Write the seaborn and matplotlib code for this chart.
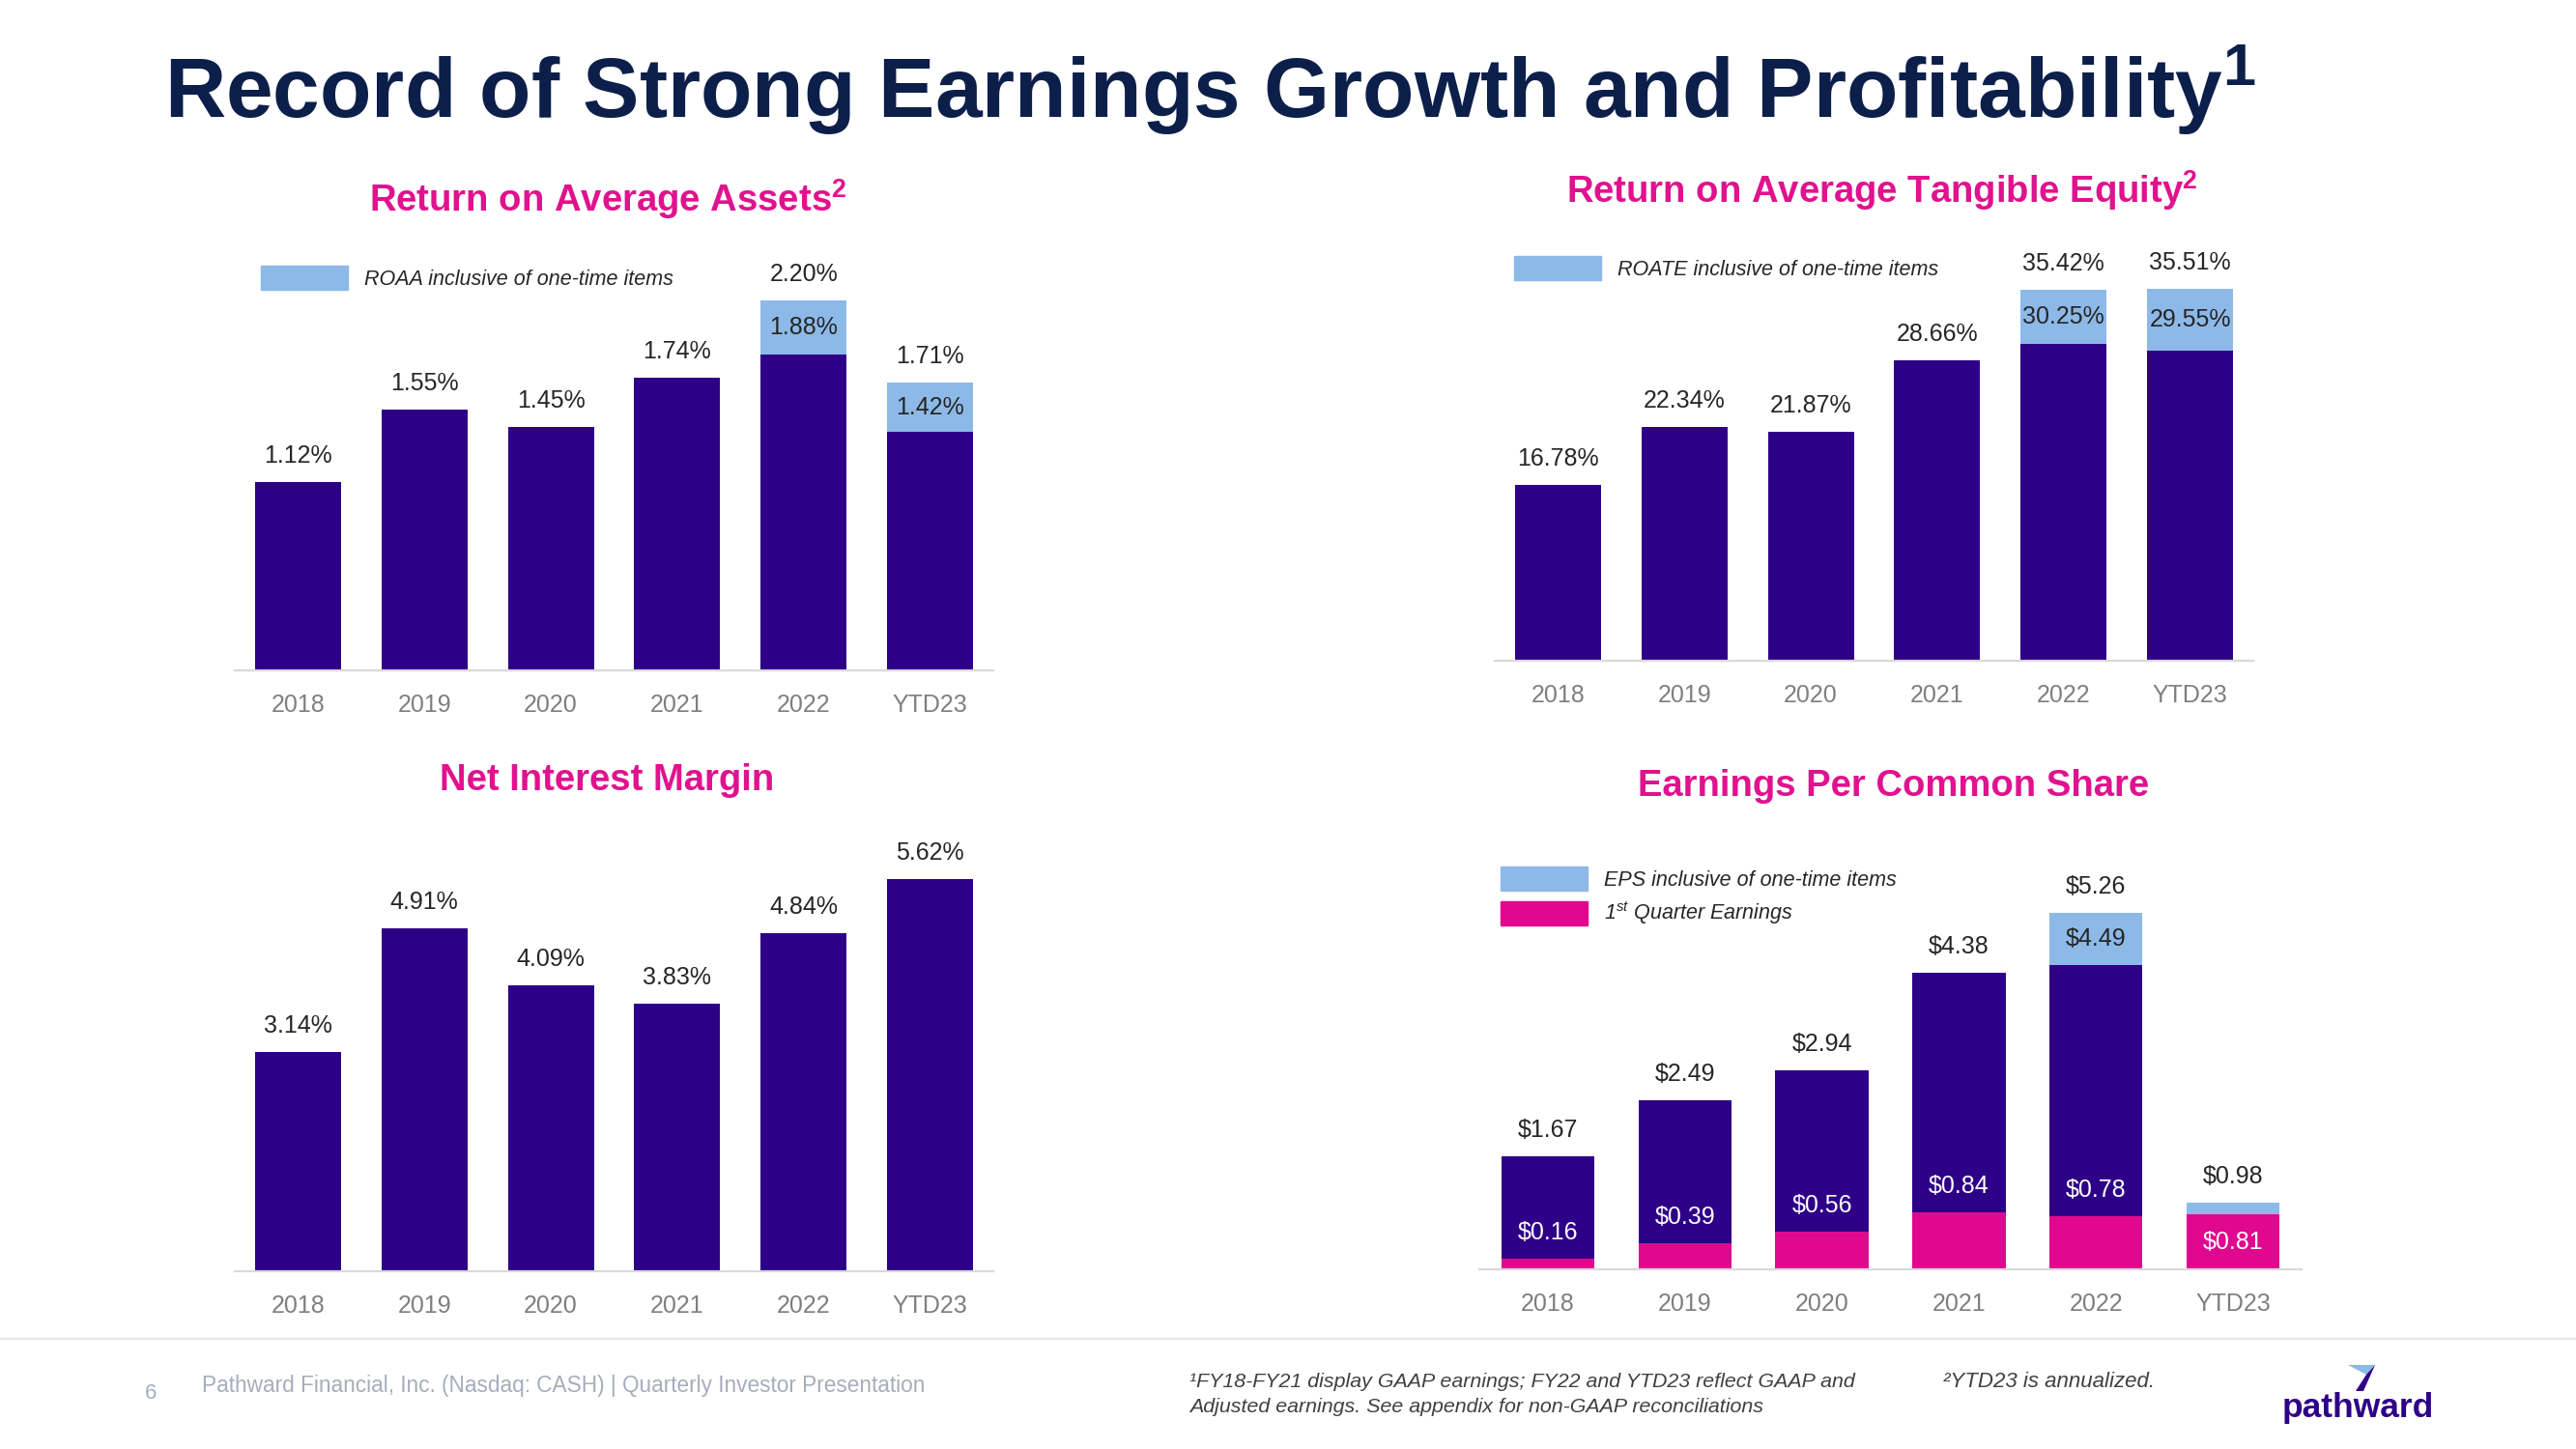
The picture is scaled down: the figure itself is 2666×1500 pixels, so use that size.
import matplotlib
matplotlib.use("Agg")
import matplotlib.pyplot as plt
import matplotlib.patches as mpatches
import seaborn as sns

# Data
years = ["2018", "2019", "2020", "2021", "2022", "YTD23"]

roaa_adjusted = [1.12, 1.55, 1.45, 1.74, 1.88, 1.42]
roaa_inclusive = [1.12, 1.55, 1.45, 1.74, 2.20, 1.71]

roate_adjusted = [16.78, 22.34, 21.87, 28.66, 30.25, 29.55]
roate_inclusive = [16.78, 22.34, 21.87, 28.66, 35.42, 35.51]

nim = [3.14, 4.91, 4.09, 3.83, 4.84, 5.62]

eps_adjusted = [1.67, 2.49, 2.94, 4.38, 4.49, 0.81]
eps_inclusive = [1.67, 2.49, 2.94, 4.38, 5.26, 0.98]
eps_q1 = [0.16, 0.39, 0.56, 0.84, 0.78, 0.81]

DARK = "#2E0087"
LIGHT = "#8DB9E8"
PINK = "#E0088F"
MAGENTA = "#E0128E"
NAVY = "#0C1F4A"
LABEL = "#262626"
TICK = "#7F7F7F"

W, H = 2666, 1500

sns.set_theme(style="white")
plt.rcParams["font.family"] = ["Liberation Sans", "DejaVu Sans"]
plt.rcParams["mathtext.fontset"] = "custom"
plt.rcParams["mathtext.rm"] = "Liberation Sans"
plt.rcParams["mathtext.it"] = "Liberation Sans:italic"
plt.rcParams["mathtext.bf"] = "Liberation Sans:bold"

fig = plt.figure(figsize=(W / 100, H / 100), dpi=100)


def fx(x):
    return x / W


def fy(y):
    return 1 - y / H


def make_axis(left, width, baseline, scale, ymax):
    """axes whose y=0 sits on the baseline pixel row, scale in px per unit"""
    height = ymax * scale
    ax = fig.add_axes([fx(left), fy(baseline), width / W, height / H])
    return ax


def bars(ax, values, color):
    sns.barplot(x=years, y=values, order=years, color=color, width=0.68,
                saturation=1, linewidth=0, errorbar=None, ax=ax)


def style(ax, ymax):
    ax.set_xlim(-0.5, 5.5)
    ax.set_ylim(0, ymax)
    ax.set_yticks([])
    ax.set_xlabel("")
    ax.set_ylabel("")
    for side in ["top", "left", "right"]:
        ax.spines[side].set_visible(False)
    ax.spines["bottom"].set_color("#D9D9D9")
    ax.spines["bottom"].set_linewidth(1.6)
    ax.tick_params(axis="x", length=0, pad=17, labelsize=18, labelcolor=TICK)
    ax.set_facecolor("none")


def label(ax, i, y, text, color=LABEL, offset=19.5):
    ax.annotate(text, (i, y), xytext=(0, offset), textcoords="offset points",
                ha="center", va="center", fontsize=18, color=color)


def legend(ax, handles, x, y):
    ax.legend(handles=handles, loc="upper left", bbox_to_anchor=(fx(x), fy(y)),
              bbox_transform=fig.transFigure, frameon=False, borderpad=0,
              borderaxespad=0, handlelength=4.2, handleheight=1.4,
              handletextpad=0.75, labelspacing=0.45,
              prop={"style": "italic", "size": 15.5})


def stacked_pct(ax, adjusted, inclusive):
    bars(ax, inclusive, LIGHT)
    bars(ax, adjusted, DARK)
    for i, (a, t) in enumerate(zip(adjusted, inclusive)):
        label(ax, i, t, "{:.2f}%".format(t))
        if t > a:
            label(ax, i, (a + t) / 2, "{:.2f}%".format(a), offset=0)


# Return on average assets
ax1 = make_axis(243, 785, 694, 174.0, 2.6)
stacked_pct(ax1, roaa_adjusted, roaa_inclusive)
style(ax1, 2.6)
legend(ax1, [mpatches.Patch(color=LIGHT, label="ROAA inclusive of one-time items")], 270, 275)

# Return on average tangible equity
ax2 = make_axis(1547, 785, 684, 10.85, 42)
stacked_pct(ax2, roate_adjusted, roate_inclusive)
style(ax2, 42)
legend(ax2, [mpatches.Patch(color=LIGHT, label="ROATE inclusive of one-time items")], 1567, 265)

# Net interest margin
ax3 = make_axis(243, 785, 1316, 72.3, 6.6)
bars(ax3, nim, DARK)
for i, v in enumerate(nim):
    label(ax3, i, v, "{:.2f}%".format(v))
style(ax3, 6.6)

# Earnings per common share
ax4 = make_axis(1531, 851, 1314, 70.1, 6.3)
bars(ax4, eps_inclusive, LIGHT)
bars(ax4, eps_adjusted, DARK)
bars(ax4, eps_q1, PINK)
for i, (a, t, q) in enumerate(zip(eps_adjusted, eps_inclusive, eps_q1)):
    label(ax4, i, t, "${:.2f}".format(t))
    if t > a and a > q:
        label(ax4, i, (a + t) / 2, "${:.2f}".format(a), offset=0)
    if q < a:
        label(ax4, i, q, "${:.2f}".format(q), color="white")
    else:
        label(ax4, i, q / 2, "${:.2f}".format(q), color="white", offset=0)
style(ax4, 6.3)
legend(ax4, [mpatches.Patch(color=LIGHT, label="EPS inclusive of one-time items"),
             mpatches.Patch(color=PINK, label="1$^{st}$ Quarter Earnings")], 1553, 897)

# Titles
fig.text(fx(170), fy(122), r"Record of Strong Earnings Growth and Profitability$^{\mathbf{1}}$",
         fontsize=63, fontweight="bold", color=NAVY, ha="left", va="baseline")
subtitles = [(r"Return on Average Assets$^{\mathbf{2}}$", 629, 206),
             (r"Return on Average Tangible Equity$^{\mathbf{2}}$", 1948, 197),
             ("Net Interest Margin", 628, 808),
             ("Earnings Per Common Share", 1960, 814)]
for text, x, y in subtitles:
    fig.text(fx(x), fy(y), text, fontsize=27.5, fontweight="bold", color=MAGENTA,
             ha="center", va="center")

# Footer
fig.add_artist(plt.Line2D([0, 1], [fy(1386), fy(1386)], transform=fig.transFigure,
                          color="#E6E6E6", linewidth=1.5))
fig.text(fx(150), fy(1442), "6", fontsize=16, color="#A6ADBB", ha="left", va="center")
fig.text(fx(209), fy(1435),
         "Pathward Financial, Inc. (Nasdaq: CASH) | Quarterly Investor Presentation",
         fontsize=16.3, color="#A6ADBB", ha="left", va="center")
fig.text(fx(1231), fy(1430),
         "\u00b9FY18-FY21 display GAAP earnings; FY22 and YTD23 reflect GAAP and",
         fontsize=15.4, style="italic", color="#404040", ha="left", va="center")
fig.text(fx(1231), fy(1457),
         "Adjusted earnings. See appendix for non-GAAP reconciliations",
         fontsize=15.4, style="italic", color="#404040", ha="left", va="center")
fig.text(fx(2011), fy(1430), "\u00b2YTD23 is annualized.",
         fontsize=16, style="italic", color="#404040", ha="left", va="center")

# Logo
fig.text(fx(2440), fy(1457), "pathward", fontsize=25.5, fontweight="bold",
         color=DARK, ha="center", va="center")
fig.add_artist(mpatches.Polygon([(fx(2430), fy(1413)), (fx(2458), fy(1413)), (fx(2449), fy(1423))],
                                closed=True, transform=fig.transFigure, color=LIGHT, lw=0))
fig.add_artist(mpatches.Polygon([(fx(2449), fy(1423)), (fx(2458), fy(1413)), (fx(2446), fy(1440)),
                                 (fx(2438), fy(1440))],
                                closed=True, transform=fig.transFigure, color=DARK, lw=0))

fig.savefig("out.png", dpi=100, facecolor="white")
